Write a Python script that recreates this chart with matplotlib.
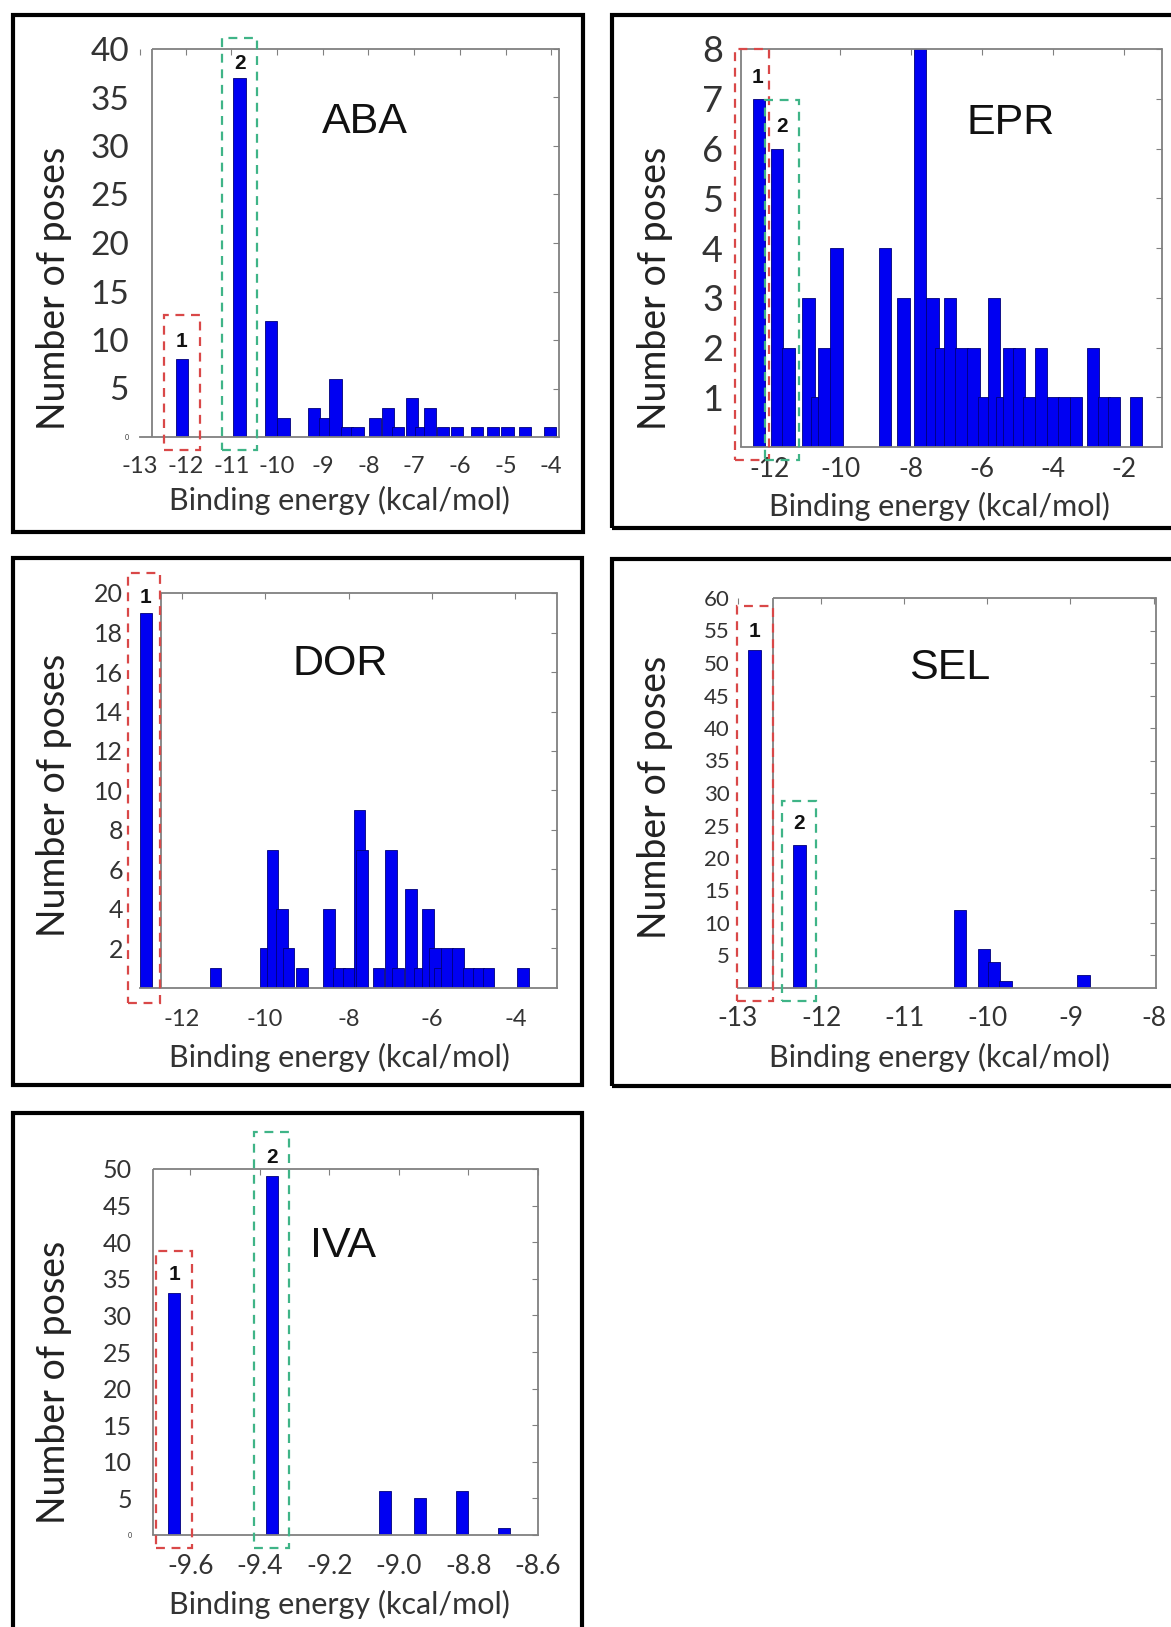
import matplotlib
matplotlib.use("Agg")
import matplotlib.pyplot as plt
from matplotlib.patches import Rectangle

W, H = 1171, 1627
DPI = 100

# ---------------- data ----------------
aba_energy = [-12.08, -10.82, -10.13, -9.86, -9.19, -8.95, -8.72, -8.47, -8.24, -7.86, -7.57,
              -7.35, -7.04, -6.85, -6.65, -6.37, -6.06, -5.62, -5.27, -4.96, -4.58, -4.02]
aba_count = [8, 37, 12, 2, 3, 2, 6, 1, 1, 2, 3, 1, 4, 1, 3, 1, 1, 1, 1, 1, 1, 1]

epr_energy = [-12.30, -11.78, -11.46, -10.90, -10.65, -10.44, -10.10, -8.74, -8.21, -7.75, -7.40,
              -7.16, -6.91, -6.58, -6.24, -5.94, -5.66, -5.42, -5.23, -4.95, -4.66, -4.34, -4.00,
              -3.68, -3.35, -2.86, -2.56, -2.28, -1.65]
epr_count = [7, 6, 2, 3, 1, 2, 4, 4, 3, 8, 3, 2, 3, 2, 2, 1, 3, 1, 2, 2, 1, 2, 1, 1, 1, 2, 1, 1, 1]

dor_energy = [-12.86, -11.19, -9.98, -9.82, -9.60, -9.44, -9.12, -8.47, -8.22, -8.00, -7.74, -7.68,
              -7.28, -6.98, -6.82, -6.50, -6.28, -6.10, -5.92, -5.80, -5.63, -5.37, -5.12, -4.88,
              -4.64, -3.81]
dor_count = [19, 1, 2, 7, 4, 2, 1, 4, 1, 1, 9, 7, 1, 7, 1, 5, 1, 4, 2, 1, 2, 2, 1, 1, 1, 1]

sel_energy = [-12.80, -12.26, -10.33, -10.04, -9.92, -9.78, -8.84]
sel_count = [52, 22, 12, 6, 4, 1, 2]

iva_energy = [-9.646, -9.365, -9.04, -8.94, -8.819, -8.698]
iva_count = [33, 49, 6, 5, 6, 1]

aba_xticks = [-13, -12, -11, -10, -9, -8, -7, -6, -5, -4]
epr_xticks = [-12, -10, -8, -6, -4, -2]
dor_xticks = [-12, -10, -8, -6, -4]
sel_xticks = [-13, -12, -11, -10, -9, -8]
iva_xticks = [-9.6, -9.4, -9.2, -9.0, -8.8, -8.6]
iva_xticklabels = ["-9.6", "-9.4", "-9.2", "-9.0", "-8.8", "-8.6"]

aba_yticks = [5, 10, 15, 20, 25, 30, 35, 40]
epr_yticks = [1, 2, 3, 4, 5, 6, 7, 8]
dor_yticks = [2, 4, 6, 8, 10, 12, 14, 16, 18, 20]
sel_yticks = [5, 10, 15, 20, 25, 30, 35, 40, 45, 50, 55, 60]
iva_yticks = [5, 10, 15, 20, 25, 30, 35, 40, 45, 50]

names = ["ABA", "EPR", "DOR", "SEL", "IVA"]

# ---------------- styling ----------------
plt.rcParams["font.family"] = ["Lato", "DejaVu Sans"]
BAR = "#0000F2"
BAR_EDGE = "#00007A"
SPINE = "#808080"
RED = "#d94848"
GREEN = "#3fb487"

fig = plt.figure(figsize=(W / DPI, H / DPI), dpi=DPI)
fig.patch.set_facecolor("white")


def add_ax(l, r, t, b):
    return fig.add_axes([l / W, 1 - b / H, (r - l) / W, (b - t) / H])


def panel(box, ax_px, xlim, ylim, spine_left, energy, count, width,
          xticks, xticklabels, yticks, ytick_fs, xtick_fs, ypad, xpad,
          title, title_xy, boxes, tiny_zero, ylabel_xy, xlabel_xy):
    # panel frame
    bx0, by0, bx1, by1 = box
    fig.add_artist(Rectangle((bx0 / W, 1 - by1 / H), (bx1 - bx0) / W, (by1 - by0) / H,
                             transform=fig.transFigure, fill=False, lw=3.0, ec="black"))
    ax = add_ax(*ax_px)
    ax.set_xlim(*xlim)
    ax.set_ylim(*ylim)
    ax.bar(energy, count, width=width, color=BAR, edgecolor=BAR_EDGE, linewidth=0.6, zorder=2)
    for sp in ["right", "bottom"]:
        ax.spines[sp].set_color(SPINE)
        ax.spines[sp].set_linewidth(1.3)
    ax.spines["left"].set_visible(False)
    ax.spines["top"].set_visible(False)
    ax.vlines(spine_left, ylim[0], ylim[1], color=SPINE, lw=1.3, zorder=3, clip_on=False)
    ax.hlines(ylim[1], spine_left, xlim[1], color=SPINE, lw=1.3, zorder=3, clip_on=False)

    ax.set_xticks(xticks)
    ax.set_xticklabels(xticklabels, fontsize=xtick_fs, color="#333333")
    if tiny_zero:
        yt = [0] + yticks
        ax.set_yticks(yt)
        labs = ax.set_yticklabels([str(v) for v in yt], fontsize=ytick_fs, color="#333333")
        labs[0].set_fontsize(5)
    else:
        ax.set_yticks(yticks)
        ax.set_yticklabels([str(v) for v in yticks], fontsize=ytick_fs, color="#333333")
    ax.tick_params(axis="x", which="both", direction="in", length=4, color=SPINE,
                   top=True, bottom=False, pad=xpad)
    ax.tick_params(axis="y", which="both", direction="in", length=4, color=SPINE,
                   right=True, left=False, pad=ypad)

    ax.text(title_xy[0], title_xy[1], title, fontsize=31, family=["Liberation Sans"],
            ha="center", va="center", color="#111111")

    for (x0, x1, y0, y1, col, lab, lx, ly) in boxes:
        ax.add_patch(Rectangle((x0, y0), x1 - x0, y1 - y0, fill=False, ec=col, lw=1.6,
                               ls=(0, (4, 3)), clip_on=False, zorder=4))
        ax.text(lx, ly, lab, fontsize=15, fontweight="bold", family=["Liberation Sans"],
                ha="center", va="center", color="#111111", zorder=5)

    fig.text(ylabel_xy[0] / W, 1 - ylabel_xy[1] / H, "Number of poses", rotation=90,
             ha="center", va="center", fontsize=27, color="#222222")
    fig.text(xlabel_xy[0] / W, 1 - xlabel_xy[1] / H, "Binding energy (kcal/mol)",
             ha="center", va="center", fontsize=22, color="#333333")
    return ax


# ABA
panel(box=(13, 15, 583, 532), ax_px=(140, 559, 49, 437), xlim=(-13, -3.83), ylim=(0, 40),
      spine_left=-12.74, energy=aba_energy, count=aba_count, width=0.27,
      xticks=aba_xticks, xticklabels=[str(v) for v in aba_xticks], yticks=aba_yticks,
      ytick_fs=24, xtick_fs=17, ypad=8, xpad=14, title=names[0], title_xy=(-8.08, 32.5),
      boxes=[(-12.47, -11.69, -1.3, 12.6, RED, "1", -12.09, 9.8),
             (-11.21, -10.45, -1.3, 41.1, GREEN, "2", -10.81, 38.5)],
      tiny_zero=True, ylabel_xy=(54, 288), xlabel_xy=(339, 500))

# EPR
panel(box=(612, 15, 1190, 528), ax_px=(741, 1162, 49, 447), xlim=(-12.80, -0.92), ylim=(0, 8),
      spine_left=-12.80, energy=epr_energy, count=epr_count, width=0.35,
      xticks=epr_xticks, xticklabels=[str(v) for v in epr_xticks], yticks=epr_yticks,
      ytick_fs=26, xtick_fs=19, ypad=13, xpad=7, title=names[1], title_xy=(-5.2, 6.51),
      boxes=[(-12.97, -12.0, -0.26, 8.0, RED, "1", -12.34, 7.42),
             (-12.12, -11.15, -0.26, 6.98, GREEN, "2", -11.65, 6.44)],
      tiny_zero=False, ylabel_xy=(655, 288), xlabel_xy=(939, 506))

# DOR
panel(box=(13, 558, 582, 1085), ax_px=(140, 557, 593, 988), xlim=(-13, -3.0), ylim=(0, 20),
      spine_left=-12.5, energy=dor_energy, count=dor_count, width=0.28,
      xticks=dor_xticks, xticklabels=[str(v) for v in dor_xticks], yticks=dor_yticks,
      ytick_fs=18, xtick_fs=17, ypad=12, xpad=15, title=names[2], title_xy=(-8.2, 16.4),
      boxes=[(-13.28, -12.52, -0.76, 21.0, RED, "1", -12.88, 19.75)],
      tiny_zero=False, ylabel_xy=(54, 795), xlabel_xy=(339, 1057))

# SEL
panel(box=(612, 559, 1190, 1086), ax_px=(738, 1156, 598, 988), xlim=(-13, -7.97), ylim=(0, 60),
      spine_left=-12.58, energy=sel_energy, count=sel_count, width=0.15,
      xticks=sel_xticks, xticklabels=[str(v) for v in sel_xticks], yticks=sel_yticks,
      ytick_fs=16, xtick_fs=19, ypad=6, xpad=13, title=names[3], title_xy=(-10.45, 49.2),
      boxes=[(-13.01, -12.58, -2.0, 58.7, RED, "1", -12.8, 54.8),
             (-12.47, -12.06, -2.0, 28.8, GREEN, "2", -12.26, 25.3)],
      tiny_zero=False, ylabel_xy=(655, 797), xlabel_xy=(939, 1057))

# IVA
panel(box=(13, 1113, 582, 1640), ax_px=(153, 538, 1169, 1535), xlim=(-9.707, -8.6), ylim=(0, 50),
      spine_left=-9.707, energy=iva_energy, count=iva_count, width=0.034,
      xticks=iva_xticks, xticklabels=iva_xticklabels, yticks=iva_yticks,
      ytick_fs=18, xtick_fs=19, ypad=15, xpad=14, title=names[4], title_xy=(-9.16, 39.5),
      boxes=[(-9.698, -9.595, -1.83, 38.8, RED, "1", -9.646, 35.6),
             (-9.416, -9.315, -1.83, 55.0, GREEN, "2", -9.366, 51.6)],
      tiny_zero=True, ylabel_xy=(54, 1382), xlabel_xy=(339, 1604))

fig.savefig("out.png", dpi=DPI, facecolor="white")
